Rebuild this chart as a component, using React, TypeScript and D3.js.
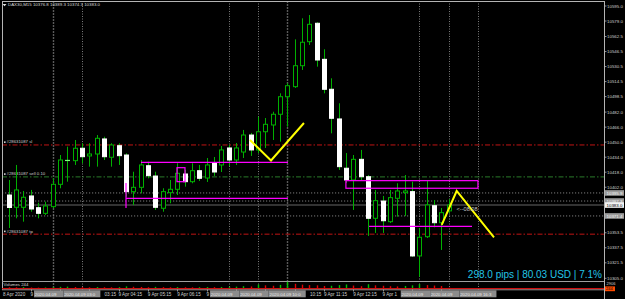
import React from 'react';
import * as d3 from 'd3';

const W = 625;
const H = 299;

// ---- candle data (DAX30 M15), bar 0 = 9 Apr 00:30 ----
const opens = [10393.7, 10380.6, 10380.6, 10392.7, 10380.2, 10374.2, 10381.3, 10405.1, 10430.0, 10430.3,
  10443.5, 10435.3, 10437.4, 10453.4, 10433.9, 10446.2, 10436.3, 10397.3, 10401.9, 10424.9,
  10413.9, 10379.6, 10396.2, 10399.8, 10416.1, 10407.9, 10419.6, 10411.8, 10427.8, 10425.7,
  10443.8, 10431.0, 10439.5, 10457.6, 10441.7, 10461.1, 10468.3, 10479.7, 10498.4, 10509.1,
  10531.4, 10557.0, 10576.6, 10538.2, 10506.3, 10474.7, 10422.2, 10409.7, 10431.7, 10413.2,
  10368.9, 10387.3, 10365.3, 10390.2, 10396.2, 10397.3, 10328.8, 10349.3, 10382.3, 10364.2, 10376.8];
const closes = [10380.4, 10399.1, 10391.3, 10378.8, 10374.2, 10382.0, 10405.1, 10431.0, 10430.5, 10443.5,
  10434.5, 10437.4, 10454.1, 10434.5, 10447.0, 10435.6, 10397.3, 10401.9, 10425.7, 10414.3,
  10380.6, 10397.3, 10399.8, 10416.8, 10407.9, 10419.6, 10411.5, 10425.7, 10418.2, 10441.7,
  10431.0, 10443.8, 10457.6, 10441.7, 10461.1, 10469.0, 10479.7, 10498.4, 10510.1, 10531.4,
  10556.4, 10575.5, 10537.5, 10506.3, 10475.4, 10423.9, 10409.7, 10431.7, 10413.2, 10368.9,
  10387.7, 10366.3, 10390.9, 10398.0, 10398.0, 10328.8, 10348.7, 10383.1, 10364.2, 10374.9, 10383.0];
const highs = [10409.7, 10425.7, 10398.0, 10399.1, 10385.5, 10386.6, 10411.5, 10436.3, 10445.2, 10452.3,
  10448.8, 10448.8, 10457.6, 10455.8, 10448.8, 10448.8, 10438.1, 10418.5, 10431.0, 10429.2,
  10418.5, 10400.9, 10409.7, 10427.5, 10420.4, 10427.5, 10425.7, 10433.1, 10434.2, 10445.9,
  10447.0, 10449.1, 10463.0, 10459.8, 10477.1, 10475.7, 10482.4, 10502.0, 10512.7, 10559.5,
  10581.9, 10585.4, 10577.7, 10548.9, 10518.0, 10491.4, 10438.4, 10436.3, 10441.7, 10415.0,
  10399.1, 10392.7, 10399.1, 10406.2, 10415.0, 10407.9, 10358.6, 10408.6, 10388.4, 10379.9, 10389.3];
const lows = [10358.6, 10368.9, 10365.3, 10375.9, 10368.9, 10372.4, 10379.6, 10400.9, 10407.9, 10425.7,
  10427.5, 10423.9, 10423.9, 10431.0, 10423.9, 10425.7, 10391.9, 10383.1, 10395.5, 10411.5,
  10377.8, 10375.9, 10384.9, 10393.7, 10402.6, 10406.2, 10408.6, 10407.6, 10414.0, 10418.2,
  10424.6, 10425.7, 10433.1, 10435.3, 10438.4, 10443.8, 10452.3, 10450.5, 10466.5, 10507.7,
  10526.9, 10553.5, 10530.4, 10502.0, 10459.4, 10420.4, 10406.5, 10377.8, 10409.7, 10350.1,
  10353.3, 10353.3, 10363.9, 10370.6, 10371.4, 10327.7, 10306.7, 10347.9, 10359.3, 10335.2, 10374.3];
const volumes = [420, 380, 510, 300, 260, 350, 480, 620, 700, 540, 460, 380, 520, 430, 390, 470, 820, 640, 560, 420,
  610, 480, 400, 520, 430, 380, 460, 520, 480, 560, 640, 700, 900, 780, 1700, 1300, 1100, 1500, 2906, 2000,
  1600, 1400, 1300, 1000, 1100, 1400, 1700, 1200, 900, 1800, 1300, 1100, 900, 800, 1000, 1300, 1900, 1400, 1200, 1000, 244];

// ---- axes ----
const priceTicks = [10595.0, 10579.0, 10562.5, 10546.5, 10530.5, 10514.5, 10498.5, 10482.0, 10466.0, 10450.0,
  10434.0, 10418.0, 10402.0, 10386.0, 10370.0, 10353.5, 10337.5, 10321.5, 10305.0];
const timeLabelBars = [3, 7, 11, 15, 19, 23, 27, 31, 35, 39, 43, 47, 51, 55, 59];
const timeLabelTexts = ['9 Apr 01:15', '9 Apr 02:15', '9 Apr 03:15', '9 Apr 04:15', '9 Apr 05:15', '9 Apr 06:15',
  '9 Apr 07:15', '9 Apr 08:15', '9 Apr 09:15', '9 Apr 10:15', '9 Apr 11:15', '9 Apr 12:15', '9 Apr 13:15',
  '9 Apr 14:15', '9 Apr 15:15'];
const firstDateLabel = '8 Apr 2020';

// ---- vertical lines ----
const vlineBars = [6, 10, 30, 34, 38, 56, 60, 64];
const vlineLabels = ['2020.04.09 02:00', '2020.04.09 03:00', '2020.04.09 08:00', '2020.04.09 09:00',
  '2020.04.09 10:00', '2020.04.09 14:30', '2020.04.09 15:30', '2020.04.09 16:30'];
const vlineDark = [true, false, false, false, true, false, false, false];

// ---- order levels ----
const orderLevelPrices = [10447.0, 10413.0, 10352.0];
const orderLevelNames = ['#28631087 sl', '#28631087 sell 0.10', '#28631087 tp'];
const orderLevelColors = ['#c01414', '#2a7a2a', '#c01414'];
const dottedLevelPrices = [10395.9, 10387.3, 10371.4];
const bidPrice = 10383.0;

// ---- drawings ----
const magentaSegX1 = [18.06, 16.02, 16.02, 49.16];
const magentaSegP1 = [10428.5, 10390.2, 10406.5, 10360.4];
const magentaSegX2 = [38.1, 38.1, 16.02, 63.19];
const magentaSegP2 = [10428.5, 10390.2, 10379.9, 10360.4];
const magentaRectX = [[22.97, 24.06], [46.0, 64.0]];
const magentaRectP = [[10422.8, 10407.9], [10409.0, 10400.9]];
const yellowV1Bars = [32.92, 35.79, 40.28];
const yellowV1Prices = [10452.3, 10430.5, 10470.4];
const yellowV2Bars = [59.06, 61.1, 66.19];
const yellowV2Prices = [10361.8, 10398.0, 10348.7];

const titleText = 'DAX30,M15  10376.8 10389.3 10374.3 10383.0';
const timerText = '<--08:08';
const profitText = '298.0 pips | 80.03 USD | 7.1%';
const volumeTitle = 'Volumes 244';
const volumeMaxLabel = '2906';

const FONT = 'Liberation Sans, Arial, sans-serif';
const GREEN = '#00b000';
const TFS = 4.6; // time label font size
const CW = TFS * 0.53; // approx char width
const BFS = 4.3; // box label font size
const BCW = BFS * 0.55;

export default function App() {
  const left = 2, right = 604, top = 1, mainBottom = 281, volBottom = 289.5;
  const x = d3.scaleLinear().domain([0, 1]).range([8.5, 8.5 + 7.335]);
  const y = d3.scaleLinear().domain([10305, 10595]).range([278.3, 6]);
  const vy = d3.scaleLinear().domain([0, 2906]).range([288.2, 281.8]);
  const line = d3.line<[number, number]>().x(d => x(d[0])).y(d => y(d[1]));

  const candles = opens.map((o, i) => ({ i, o, c: closes[i], h: highs[i], l: lows[i] }));

  // time-axis boxes for vertical lines (later boxes drawn over earlier ones)
  const boxes = vlineBars.map((b, k) => {
    const x0 = x(b) - 18.5;
    let x1 = x(b) + 18.5;
    if (k < vlineBars.length - 1) {
      const nx0 = x(vlineBars[k + 1]) - 18.5;
      if (nx0 < x1) x1 = nx0;
    }
    const n = Math.min(vlineLabels[k].length, Math.floor((x1 - x0 - 1.5) / BCW));
    return { x0, x1, label: vlineLabels[k].slice(0, n) };
  });
  // merged covered intervals
  const covers: [number, number][] = [];
  vlineBars.forEach(b => {
    const a = x(b) - 18.5, e = x(b) + 18.5;
    const last = covers[covers.length - 1];
    if (last && a <= last[1]) last[1] = Math.max(last[1], e);
    else covers.push([a, e]);
  });
  const timeLabels = timeLabelBars.map((b, k) => {
    const txt = timeLabelTexts[k];
    const s = x(b), e = s + txt.length * CW;
    for (const [a, c] of covers) {
      if (s >= a && e <= c) return null;
      if (s >= a && s < c && e > c) {
        const suffix = txt.slice(txt.lastIndexOf(' ') + 1);
        return { x: e, anchor: 'end', text: suffix };
      }
      if (s < a && e > a) {
        const n = Math.max(1, Math.floor((a - s) / CW));
        return { x: s, anchor: 'start', text: txt.slice(0, n).trim() };
      }
    }
    return { x: s, anchor: 'start', text: txt };
  }).filter(Boolean) as { x: number; anchor: string; text: string }[];

  const boxedPrices = [...dottedLevelPrices, bidPrice];
  const visibleTicks = priceTicks.filter(p => boxedPrices.every(bp => Math.abs(y(bp) - y(p)) > 4.5));

  return (
    <svg width={W} height={H} style={{ position: 'fixed', left: 0, top: 0, display: 'block', background: '#000' }}
      fontFamily={FONT}>
      <rect x={0} y={0} width={W} height={H} fill="#000" />
      <defs>
        <clipPath id="main"><rect x={left} y={top} width={right - left} height={mainBottom - top} /></clipPath>
      </defs>

      {/* vertical lines */}
      {vlineBars.map((b, k) => (
        <line key={'v' + k} x1={Math.round(x(b)) + 0.5} x2={Math.round(x(b)) + 0.5} y1={top} y2={volBottom}
          stroke={vlineDark[k] ? '#5a5a5a' : '#9a9a9a'} strokeWidth={vlineDark[k] ? 1.4 : 0.8}
          strokeDasharray={vlineDark[k] ? '2,1' : '1,1.5'} />
      ))}

      <g clipPath="url(#main)">
        {/* dotted levels */}
        {dottedLevelPrices.map((p, k) => (
          <line key={'d' + k} x1={left} x2={right} y1={y(p)} y2={y(p)} stroke="#9a9a9a" strokeWidth={0.8} strokeDasharray="1.2,1.8" />
        ))}
        {/* bid line */}
        <line x1={left} x2={right} y1={y(bidPrice)} y2={y(bidPrice)} stroke="#454545" strokeWidth={1.6} />
        {/* order levels */}
        {orderLevelPrices.map((p, k) => (
          <g key={'o' + k}>
            <line x1={left} x2={right} y1={y(p)} y2={y(p)} stroke={orderLevelColors[k]} strokeWidth={1} strokeDasharray="5,2,1.5,2" />
            <rect x={4} y={y(p) - 3.6} width={1.6} height={1.6} fill="#cfcfcf" />
            <text x={6.5} y={y(p) - 1.6} fontSize={4.3} fill="#cfcfcf">{orderLevelNames[k]}</text>
          </g>
        ))}

        {/* candles */}
        {candles.map(d => {
          const cx = Math.round(x(d.i)) + 0.5;
          const bull = d.c >= d.o;
          const yt = y(Math.max(d.o, d.c));
          const yb = y(Math.min(d.o, d.c));
          return (
            <g key={'c' + d.i}>
              <line x1={cx} x2={cx} y1={y(d.h)} y2={y(d.l)} stroke={GREEN} strokeWidth={1} />
              {Math.abs(yb - yt) < 1.2 ? (
                <line x1={cx - 2.5} x2={cx + 2.5} y1={yt} y2={yt} stroke={bull ? '#7dff7d' : '#ffffff'} strokeWidth={1.2} />
              ) : (
                <rect x={cx - 2} y={yt} width={4} height={yb - yt}
                  fill={bull ? '#000' : '#fff'} stroke={bull ? GREEN : '#fff'} strokeWidth={1} />
              )}
            </g>
          );
        })}

        {/* magenta drawings */}
        {magentaSegX1.map((b, k) => (
          <line key={'m' + k} x1={x(b)} y1={y(magentaSegP1[k])} x2={x(magentaSegX2[k])} y2={y(magentaSegP2[k])}
            stroke="#ff00ff" strokeWidth={1.2} />
        ))}
        {magentaRectX.map((r, k) => (
          <rect key={'mr' + k} x={x(r[0])} y={y(magentaRectP[k][0])} width={x(r[1]) - x(r[0])}
            height={y(magentaRectP[k][1]) - y(magentaRectP[k][0])} fill="none" stroke="#ff00ff" strokeWidth={1.2} />
        ))}

        {/* yellow drawings */}
        <path d={line(yellowV1Bars.map((b, k) => [b, yellowV1Prices[k]] as [number, number])) || ''} fill="none" stroke="#ffff00" strokeWidth={2} />
        <path d={line(yellowV2Bars.map((b, k) => [b, yellowV2Prices[k]] as [number, number])) || ''} fill="none" stroke="#ffff00" strokeWidth={2} />

        {/* timer */}
        <text x={x(opens.length - 1) + 8} y={y(bidPrice) + 6} fontSize={5.6} fill="#c8c8c8">{timerText}</text>

        {/* profit text */}
        <text x={602} y={278.3} fontSize={10} fill="#22c5e6" textAnchor="end">{profitText}</text>
      </g>

      {/* title */}
      <path d="M2.5,4 L6.5,4 L4.5,6.3 Z" fill="#e0e0e0" />
      <text x={8} y={6.4} fontSize={4.4} fill="#d8d8d8">{titleText}</text>

      {/* borders */}
      <line x1={left} x2={right} y1={top + 0.5} y2={top + 0.5} stroke="#b4b4b4" strokeWidth={1} />
      <line x1={left + 0.5} x2={left + 0.5} y1={top} y2={volBottom} stroke="#b4b4b4" strokeWidth={1} />
      <line x1={left} x2={right} y1={mainBottom + 0.5} y2={mainBottom + 0.5} stroke="#a0a0a0" strokeWidth={1} />
      <line x1={right + 0.5} x2={right + 0.5} y1={top} y2={H} stroke="#b4b4b4" strokeWidth={1} />

      {/* volume panel */}
      <text x={3.5} y={286.3} fontSize={4.3} fill="#d8d8d8">{volumeTitle}</text>
      {volumes.map((v, i) => {
        const up = i > 0 && v > volumes[i - 1];
        return (
          <rect key={'vol' + i} x={Math.round(x(i)) - 0.2} y={vy(v)} width={1.4} height={vy(0) - vy(v)}
            fill={up ? '#00c000' : '#e00000'} />
        );
      })}
      <line x1={left} x2={right} y1={288.7} y2={288.7} stroke="#d01010" strokeWidth={1.2} />
      <line x1={left} x2={right} y1={volBottom + 0.3} y2={volBottom + 0.3} stroke="#b4b4b4" strokeWidth={0.8} />

      {/* price axis */}
      {visibleTicks.map((p, k) => (
        <g key={'pt' + k}>
          <line x1={right} x2={right + 2.5} y1={y(p)} y2={y(p)} stroke="#b4b4b4" strokeWidth={0.8} />
          <text x={607} y={y(p) + 1.6} fontSize={4.4} fill="#d0d0d0">{p.toFixed(1)}</text>
        </g>
      ))}
      {dottedLevelPrices.map((p, k) => (
        <g key={'pl' + k}>
          <rect x={605} y={y(p) - 2.8} width={19} height={5.6} fill="#9a9a9a" />
          <text x={606.5} y={y(p) + 1.6} fontSize={4.4} fill="#f4f4f4">{p.toFixed(1)}</text>
        </g>
      ))}
      <rect x={605} y={y(bidPrice) - 2.8} width={19} height={5.6} fill="#f2f2f2" />
      <text x={606.5} y={y(bidPrice) + 1.6} fontSize={4.4} fill="#000">{bidPrice.toFixed(1)}</text>
      <text x={606.5} y={285.3} fontSize={4.0} fill="#d0d0d0">{volumeMaxLabel}</text>
      <rect x={605} y={286.4} width={10} height={4.8} fill="#ff4a00" />
      <text x={606} y={290.2} fontSize={4.0} fill="#000">{String(volumes[volumes.length - 1])}</text>

      {/* time axis */}
      <text x={3} y={296} fontSize={TFS} fill="#d0d0d0">{firstDateLabel}</text>
      {timeLabelBars.map((b, k) => (
        <line key={'tk' + k} x1={Math.round(x(b)) + 0.5} x2={Math.round(x(b)) + 0.5} y1={volBottom} y2={volBottom + 2} stroke="#b4b4b4" strokeWidth={0.8} />
      ))}
      {timeLabels.map((t, k) => (
        <text key={'tl' + k} x={t.x} y={296} fontSize={TFS} fill="#d0d0d0" textAnchor={t.anchor as any}>{t.text}</text>
      ))}
      {boxes.map((bx, k) => (
        <g key={'vl' + k}>
          <rect x={bx.x0} y={290.3} width={bx.x1 - bx.x0} height={7} fill="#8c8c8c" />
          <text x={bx.x0 + 0.8} y={295.6} fontSize={BFS} fill="#ececec">{bx.label}</text>
        </g>
      ))}
    </svg>
  );
}
